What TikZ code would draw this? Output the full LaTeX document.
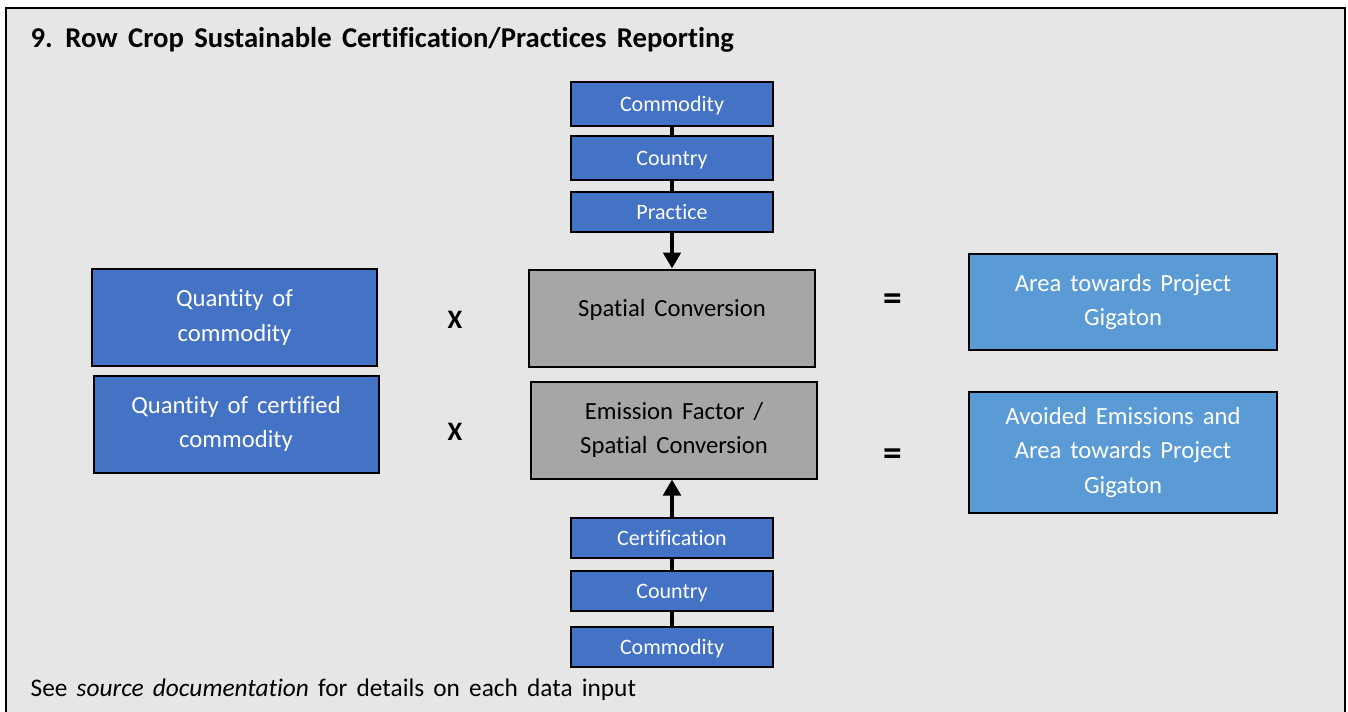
\documentclass[tikz,border=0pt]{standalone}
\usepackage{fontspec}
\setmainfont{Carlito}[Ligatures=CommonOff, WordSpace=1.6]
\usetikzlibrary{arrows.meta}
\definecolor{panelgray}{HTML}{E6E6E6}
\definecolor{darkblue}{HTML}{4472C4}
\definecolor{lightblue}{HTML}{5B9BD5}
\definecolor{midgray}{HTML}{A6A6A6}
\begin{document}
\begin{tikzpicture}[x=.75pt, y=-.75pt, font=\fontsize{18.5}{26}\selectfont,
	box/.style={draw=black, line width=1.5pt, text=white, align=center, inner sep=0pt},
	inbox/.style={box, fill=darkblue, minimum width=213.75pt, minimum height=72.75pt},
	convbox/.style={box, fill=midgray, text=black, minimum width=214.5pt, minimum height=72.75pt},
	outbox/.style={box, fill=lightblue, minimum width=231pt},
	keybox/.style={box, fill=darkblue, minimum width=151.5pt, minimum height=30pt, text depth=0pt, font=\fontsize{16.5}{18}\selectfont},
	sign/.style={font=\fontsize{20}{24}\selectfont\bfseries},
	link/.style={line width=3pt}]
	\clip (0,0) rectangle (1348,711);
	\filldraw[fill=panelgray, draw=black, line width=1.5pt] (6,8) rectangle (1345,730);
	\node[anchor=west, font=\fontsize{21.5}{26}\selectfont\bfseries] (title) at (26,40) {9. Row Crop Sustainable Certification/Practices Reporting};
	% key inputs above
	\node[keybox, minimum height=33pt] (com1) at (672,104) {Commodity};
	\node[keybox, minimum height=33pt] (ctry1) at (672,158) {Country};
	\node[keybox] (prac) at (672,211.5) {Practice};
	% main row
	\node[inbox] (qty) at (234.5,317.5) {Quantity of\\commodity};
	\node[sign] (x1) at (455,320) {X};
	\node[convbox] (spat) at (672,318) {Spatial Conversion\\[-11pt]~};
	\node[sign, font=\fontsize{28}{30}\selectfont\bfseries] (eq1) at (893,302) {=};
	\node[outbox, minimum height=72pt] (area) at (1123,302) {Area towards Project\\Gigaton};
	\node[inbox] (cqty) at (236,424) {Quantity of certified\\commodity};
	\node[sign] (x2) at (455,432) {X};
	\node[convbox] (emis) at (674,430) {Emission Factor /\\Spatial Conversion};
	\node[sign, font=\fontsize{28}{30}\selectfont\bfseries] (eq2) at (893,457) {=};
	\node[outbox, minimum height=90.75pt] (avoid) at (1123,452.5) {Avoided Emissions and\\Area towards Project\\Gigaton};
	% key inputs below
	\node[keybox] (cert) at (672,538) {Certification};
	\node[keybox] (ctry2) at (672,591) {Country};
	\node[keybox] (com2) at (672,647) {Commodity};
	\draw[link] (com1.south) -- (ctry1.north) (ctry1.south) -- (prac.north);
	\draw[link, -{Triangle[width=13pt, length=12pt]}] (prac.south) -- (spat.north);
	\draw[link] (com2.north) -- (ctry2.south) (ctry2.north) -- (cert.south);
	\draw[link, -{Triangle[width=13pt, length=12pt]}] (cert.north) -- (cert.north |- emis.south);
	\node[anchor=west, font=\fontsize{19}{24}\selectfont] (note) at (26,690) {See \textit{source documentation} for details on each data input};
\end{tikzpicture}
\end{document}
